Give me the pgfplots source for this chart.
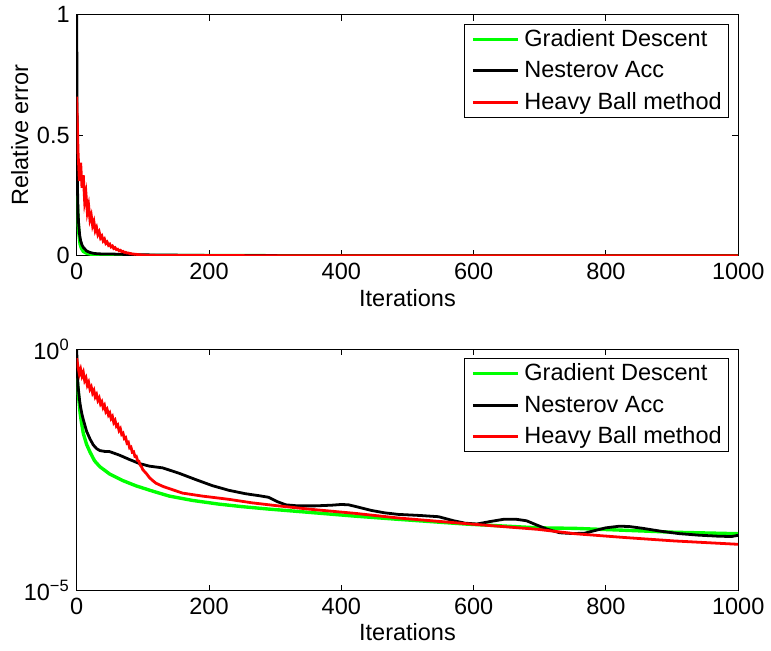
\documentclass[border=0pt]{standalone}
\usepackage{fontspec}
\setmainfont{Liberation Sans}
\usepackage{pgfplots}
\usepackage{pgfplotstable}
\pgfplotsset{compat=1.18}

\definecolor{gdgreen}{RGB}{0,255,0}
\definecolor{hbred}{RGB}{255,0,0}

% gradient descent
\pgfplotstableread{
it err
0 0.25
1 0.21
3 0.10
5 0.050
7 0.032
10 0.018
15 0.0107
20 0.0075
27 0.0049
35 0.0037
50 0.0026
70 0.0019
90 0.00148
115 0.00115
140 0.00091
175 0.00074
215 0.00062
250 0.00055
290 0.00049
350 0.00042
420 0.00035
486 0.00030
587 0.00024
697 0.00020
753 0.000195
828 0.000178
903 0.000162
1000 0.000151
}\gdtab

% Nesterov
\pgfplotstableread{
it err
0 1.0
1 0.30
2 0.18
3 0.13
4.5 0.085
6 0.062
8 0.045
10 0.035
15 0.020
20 0.014
25 0.0105
30 0.0088
35 0.0080
42 0.0077
50 0.0076
65 0.0064
80 0.0052
95 0.0043
110 0.0038
130 0.0035
155 0.0027
180 0.0020
205 0.0015
230 0.00120
255 0.00102
275 0.00093
290 0.00086
303 0.00070
316 0.00060
335 0.00057
360 0.00057
386 0.00059
400 0.00061
411 0.00060
425 0.00054
445 0.00046
465 0.00041
486 0.00038
520 0.00036
547 0.00034
570 0.00028
587 0.00025
605 0.00024
625 0.00027
645 0.00030
665 0.00030
680 0.00028
695 0.00023
710 0.00019
730 0.000158
750 0.000152
768 0.000155
785 0.000178
800 0.000200
820 0.000216
835 0.000213
855 0.000196
883 0.000170
910 0.000152
940 0.000141
970 0.000134
990 0.000132
1000 0.000140
}\natab

% heavy ball, noisy at the start
\pgfplotstableread{
it err
0 0.66
2 0.433
4 0.310
6 0.386
8 0.282
10 0.334
12 0.226
14 0.258
16 0.182
18 0.209
20 0.150
22 0.168
24 0.125
26 0.142
28 0.104
30 0.117
32 0.088
34 0.099
36 0.0740
38 0.082
40 0.062
42 0.0695
44 0.0515
46 0.0570
48 0.0437
50 0.0482
52 0.0370
54 0.0408
56 0.0305
58 0.0338
60 0.0256
62 0.0273
64 0.0208
66 0.0228
68 0.0174
70 0.0184
72 0.01425
74 0.01490
76 0.01140
78 0.0119
80 0.00910
82 0.00945
84 0.00740
86 0.00757
88 0.00605
90 0.00612
92 0.00497
94 0.00482
96 0.0040
98 0.00368
100 0.0032
105 0.0027
110 0.0022
115 0.0019
120 0.00168
130 0.00145
140 0.0013
160 0.00105
190 0.00091
230 0.00078
265 0.00066
300 0.00058
350 0.00049
420 0.00040
486 0.00032
587 0.000245
697 0.000186
753 0.000151
828 0.000126
903 0.000107
1000 0.000091
}\hbtab

\pgfplotsset{
  mlab/.style={
    scale only axis, width=332pt, height=121pt,
    xmin=0, xmax=1000,
    xtick={0,200,400,600,800,1000},
    xticklabels={0,200,400,600,800,1000},
    tick align=inside,
    major tick length=3pt,
    axis line style={line width=0.5pt},
    every tick/.style={black, line width=0.5pt},
    font=\fontsize{11.8}{13.5}\selectfont,
    xlabel={Iterations},
    xlabel style={at={(axis description cs:0.5,0)}, anchor=center, yshift=-21pt},
    legend cell align=left,
    legend style={at={(0.9864,0.963)}, anchor=north east, draw=black,
      line width=0.5pt, inner xsep=2pt, inner ysep=0.5pt, row sep=2pt,
      nodes={inner xsep=1.5pt},
      font=\fontsize{11.8}{13.5}\selectfont},
    legend image code/.code={\path (-1.5pt,0pt) (23.5pt,0pt);
      \draw[##1, line width=1.5pt] (0pt,0pt) -- (22.5pt,0pt);},
  }
}

\begin{document}
\begin{tikzpicture}
\path (-38.5pt,-198pt) rectangle (347pt,125pt);

\begin{axis}[mlab, name=top, at={(0,0)}, anchor=south west,
  ymin=0, ymax=1,
  ytick={0,0.5,1}, yticklabels={0,0.5,1},
  ylabel={Relative error},
  ylabel style={at={(axis description cs:-0.086,0.5)}, anchor=center},
]
\addplot[gdgreen, line width=1.7pt] table[x=it, y=err] {\gdtab};
\addplot[black, line width=1.4pt] table[x=it, y=err] {\natab};
\addplot[hbred, line width=1.4pt] table[x=it, y=err] {\hbtab};
\legend{Gradient Descent, Nesterov Acc, Heavy Ball method}
\end{axis}

\begin{axis}[mlab, name=bot, at={(0,-168pt)}, anchor=south west,
  ymode=log, ymin=1e-5, ymax=1,
  ytick={1e-5,1}, yticklabels={10\textsuperscript{−5},10\textsuperscript{0}},
  yminorticks=false,
]
\addplot[gdgreen, line width=1.7pt] table[x=it, y=err] {\gdtab};
\addplot[black, line width=1.4pt] table[x=it, y=err] {\natab};
\addplot[hbred, line width=1.4pt] table[x=it, y=err] {\hbtab};
\legend{Gradient Descent, Nesterov Acc, Heavy Ball method}
\end{axis}
\end{tikzpicture}
\end{document}
